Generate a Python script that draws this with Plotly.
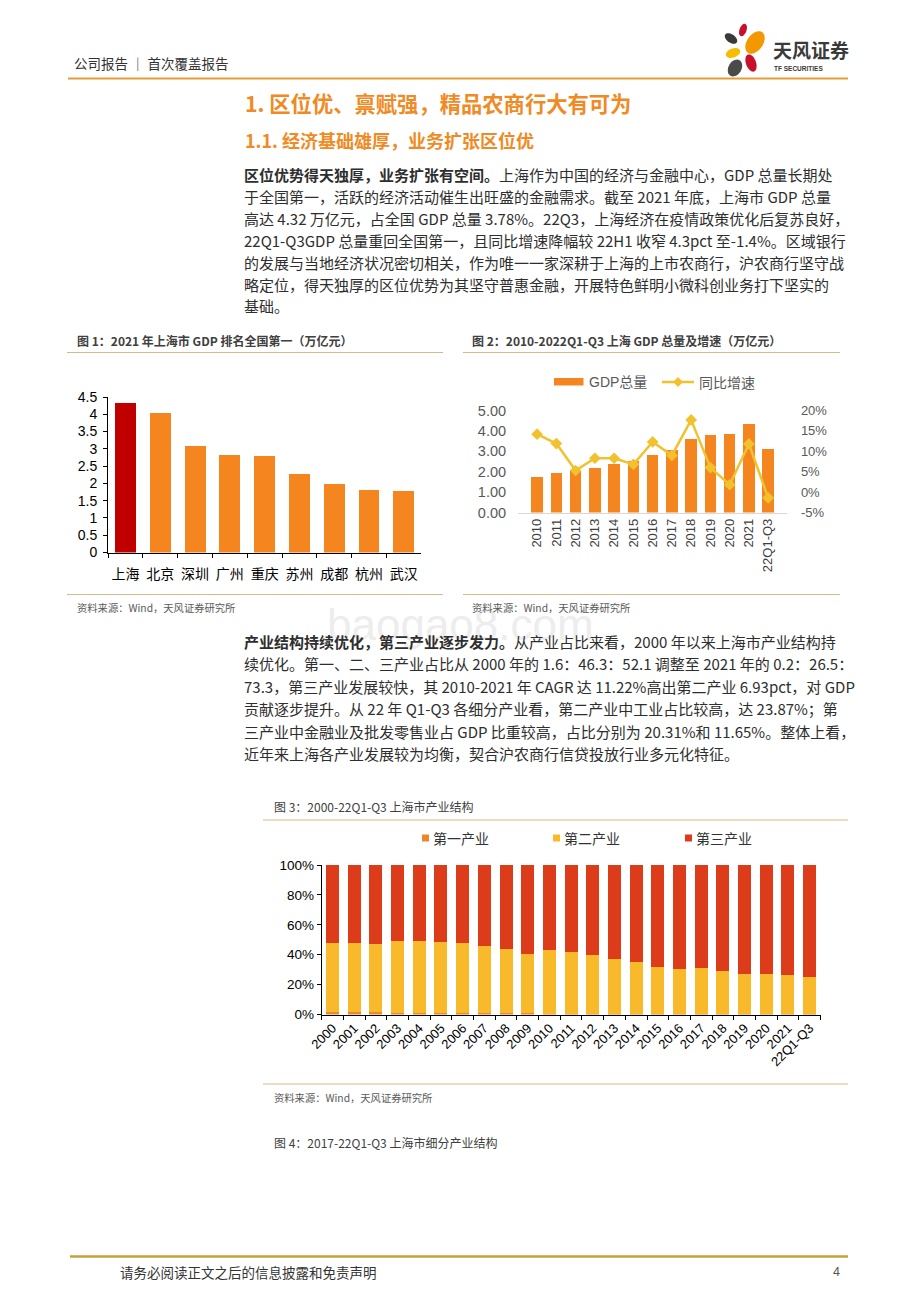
import math
import plotly.graph_objects as go

# the page body adds an 8px margin; the figure is sized so the page is 920x1302
OFF = 8
W, H = 920 - OFF, 1302 - OFF


def px(x):
    return (x - OFF) / W


def py(y):
    return 1 - (y - OFF) / H


CJK = "Noto Sans CJK SC"
NUM = "Liberation Sans, Noto Sans CJK SC"

# ---------------- data ----------------
cities = ["上海", "北京", "深圳", "广州", "重庆", "苏州", "成都", "杭州", "武汉"]
gdp_2021 = [4.32, 4.03, 3.07, 2.82, 2.79, 2.27, 1.99, 1.81, 1.77]

years_gdp = ["2010", "2011", "2012", "2013", "2014", "2015", "2016", "2017",
             "2018", "2019", "2020", "2021", "22Q1-Q3"]
gdp_total = [1.72, 1.92, 2.02, 2.18, 2.36, 2.51, 2.82, 3.06, 3.60, 3.82, 3.87, 4.32, 3.11]
gdp_growth = [14.2, 11.9, 5.3, 8.3, 8.3, 6.8, 12.3, 9.0, 17.7, 6.0, 1.8, 11.8, -1.4]
growth_tick_vals = [-5, 0, 5, 10, 15, 20]
growth_tick_text = ["-5%", "0%", "5%", "10%", "15%", "20%"]

years_struct = ["2000", "2001", "2002", "2003", "2004", "2005", "2006", "2007",
                "2008", "2009", "2010", "2011", "2012", "2013", "2014", "2015",
                "2016", "2017", "2018", "2019", "2020", "2021", "22Q1-Q3"]
primary_share = [1.6, 1.5, 1.4, 1.2, 1.0, 0.9, 0.9, 0.8, 0.7, 0.7, 0.6, 0.6,
                 0.6, 0.6, 0.5, 0.4, 0.4, 0.3, 0.3, 0.3, 0.3, 0.2, 0.2]
secondary_share = [46.3, 46.0, 45.5, 47.9, 48.3, 47.5, 46.9, 44.7, 43.3, 39.7, 42.3, 41.4,
                   38.9, 36.2, 34.5, 31.7, 30.0, 30.5, 28.7, 26.7, 26.5, 26.5, 25.0]
tertiary_share = [52.1, 52.5, 53.1, 50.9, 50.7, 51.6, 52.2, 54.5, 56.0, 59.6, 57.1, 58.0,
                  60.5, 63.2, 65.0, 67.9, 69.6, 69.2, 71.0, 73.0, 73.2, 73.3, 74.8]

# ---------------- styles ----------------
ORANGE = "#F5861F"
DARKRED = "#C00000"
GOLD = "#F2C12E"
C_PRI = "#E8892B"
C_SEC = "#F8BA2B"
C_TER = "#DD3C1B"
city_colors = [DARKRED] + [ORANGE] * 8
TITLE_ORANGE = "#F08A24"
CAP_LINE = "#D8BA88"
TEXT = "#333333"
BODY = "#2E2E2E"

fig = go.Figure()

# chart 1
fig.add_trace(go.Bar(x=cities, y=gdp_2021, marker=dict(color=city_colors, line=dict(width=0)),
                     xaxis="x", yaxis="y", showlegend=False, name="GDP"))
# chart 2
fig.add_trace(go.Bar(x=years_gdp, y=gdp_total, marker=dict(color=ORANGE, line=dict(width=0)),
                     xaxis="x2", yaxis="y2", showlegend=False, name="GDP总量"))
fig.add_trace(go.Scatter(x=years_gdp, y=gdp_growth, mode="lines+markers",
                         line=dict(color=GOLD, width=2.5),
                         marker=dict(symbol="diamond", size=9, color=GOLD),
                         xaxis="x2", yaxis="y3", showlegend=False, name="同比增速"))
# chart 3
for vals, col, nm in [(primary_share, C_PRI, "第一产业"),
                      (secondary_share, C_SEC, "第二产业"),
                      (tertiary_share, C_TER, "第三产业")]:
    fig.add_trace(go.Bar(x=years_struct, y=vals, marker=dict(color=col, line=dict(width=0)),
                         xaxis="x4", yaxis="y4", showlegend=False, name=nm))

axis_common = dict(showgrid=False, zeroline=False, fixedrange=True, automargin=False)

fig.update_layout(
    width=W, height=H, autosize=False,
    margin=dict(l=0, r=0, t=0, b=0, pad=0, autoexpand=False),
    paper_bgcolor="white", plot_bgcolor="white",
    barmode="stack", bargap=0.4,
    font=dict(family=NUM, color=TEXT),
    xaxis=dict(domain=[px(108.1), px(421.2)], anchor="y", type="category",
               showline=True, linecolor="black", linewidth=1,
               ticks="outside", tickson="boundaries", ticklen=4, tickcolor="black",
               tickangle=0, ticklabelstandoff=9,
               tickfont=dict(size=14, color="black", family=NUM), **axis_common),
    yaxis=dict(domain=[py(552.5), py(397)], anchor="x", range=[0, 4.5], dtick=0.5,
               showline=True, linecolor="black", linewidth=1,
               ticks="outside", ticklen=4, tickcolor="black", ticklabelstandoff=3,
               tickfont=dict(size=14, color="black", family=NUM), **axis_common),
    xaxis2=dict(domain=[px(518), px(787.3)], anchor="y2", type="category",
                showline=True, linecolor="#D9D9D9", linewidth=1, ticks="",
                tickangle=-90, tickfont=dict(size=13, color="#404040", family=NUM),
                **axis_common),
    yaxis2=dict(domain=[py(512.5), py(410.5)], anchor="x2", range=[0, 5], dtick=1,
                tickformat=".2f", showline=False,
                ticks="outside", ticklen=8, tickcolor="rgba(0,0,0,0)",
                tickfont=dict(size=14.5, color="#595959", family=NUM), **axis_common),
    yaxis3=dict(overlaying="y2", side="right", anchor="x2", range=[-5, 20],
                tickmode="array", tickvals=growth_tick_vals, ticktext=growth_tick_text,
                showline=False, ticks="outside", ticklen=10, tickcolor="rgba(0,0,0,0)",
                tickfont=dict(size=13, color="#595959", family=NUM), **axis_common),
    xaxis4=dict(domain=[px(321.7), px(820.5)], anchor="y4", type="category",
                showline=True, linecolor="black", linewidth=1,
                ticks="outside", tickson="boundaries", ticklen=4, tickcolor="black",
                tickangle=-45, tickfont=dict(size=13, color="black", family=NUM),
                **axis_common),
    yaxis4=dict(domain=[py(1014.5), py(865)], anchor="x4", range=[0, 100], dtick=20,
                ticksuffix="%", showline=True, linecolor="black", linewidth=1,
                ticks="outside", ticklen=4, tickcolor="black",
                tickfont=dict(size=13.5, color="black", family=NUM), **axis_common),
)

ann = []
shapes = []


def text(x, y, s, size, color=TEXT, family=CJK, anchor="left"):
    ann.append(dict(x=px(x), y=py(y), xref="paper", yref="paper", text=s,
                    showarrow=False, xanchor=anchor, yanchor="middle",
                    font=dict(size=size, color=color, family=family)))


def hline(x0, x1, y, color, width=1):
    shapes.append(dict(type="line", xref="paper", yref="paper",
                       x0=px(x0), x1=px(x1), y0=py(y), y1=py(y),
                       line=dict(color=color, width=width)))


def rect(x0, y0, x1, y1, color):
    shapes.append(dict(type="rect", xref="paper", yref="paper",
                       x0=px(x0), x1=px(x1), y0=py(y0), y1=py(y1),
                       fillcolor=color, line=dict(width=0)))


def ellipse(cx, cy, a, b, ang, color):
    pts = []
    t = math.radians(ang)
    for i in range(36):
        th = 2 * math.pi * i / 36
        ex, ey = a * math.cos(th), b * math.sin(th)
        xx = cx + ex * math.cos(t) - ey * math.sin(t)
        yy = cy + ex * math.sin(t) + ey * math.cos(t)
        pts.append(f"{px(xx):.5f},{py(yy):.5f}")
    path = "M " + " L ".join(pts) + " Z"
    shapes.append(dict(type="path", xref="paper", yref="paper", path=path,
                       fillcolor=color, line=dict(width=0)))


# watermark (faint, as in the reference)
text(460, 624, "baogao8.com", 44, color="#EDEDED", family="Liberation Sans", anchor="center")

# header
text(72, 63, "公司报告 ｜ 首次覆盖报告", 13.5, color="#333333")
hline(68, 848, 78.5, "#E89B3A", 2)
# logo
ellipse(743, 30, 6.5, 3.5, -70, "#C8102E")
ellipse(731, 38.5, 7, 4.2, 35, "#3A3A3A")
ellipse(755, 42.5, 12.5, 8, -55, "#F39800")
ellipse(733, 53, 7.5, 4.5, -20, "#F5BE00")
ellipse(751, 63, 9, 5, 70, "#C8102E")
ellipse(735, 68, 9, 6.5, -60, "#4A4A4A")
text(771, 50, "<b>天风证券</b>", 19, color="#3A3A3A")
text(772, 68, "<b>TF SECURITIES</b>", 6.5, color="#3A3A3A", family="Liberation Sans")

# section titles
text(243, 103, "<b>1. 区位优、禀赋强，精品农商行大有可为</b>", 21.3, color=TITLE_ORANGE)
text(243, 140, "<b>1.1. 经济基础雄厚，业务扩张区位优</b>", 18, color=TITLE_ORANGE)

p1 = [
    "<b>区位优势得天独厚，业务扩张有空间。</b>上海作为中国的经济与金融中心，GDP 总量长期处",
    "于全国第一，活跃的经济活动催生出旺盛的金融需求。截至 2021 年底，上海市 GDP 总量",
    "高达 4.32 万亿元，占全国 GDP 总量 3.78%。22Q3，上海经济在疫情政策优化后复苏良好，",
    "22Q1-Q3GDP 总量重回全国第一，且同比增速降幅较 22H1 收窄 4.3pct 至-1.4%。区域银行",
    "的发展与当地经济状况密切相关，作为唯一一家深耕于上海的上市农商行，沪农商行坚守战",
    "略定位，得天独厚的区位优势为其坚守普惠金融，开展特色鲜明小微科创业务打下坚实的",
    "基础。",
]
for i, s in enumerate(p1):
    text(242, 175 + 21.8 * i, s, 15, color=BODY)

# chart captions
text(75, 341, "<b>图 1：2021 年上海市 GDP 排名全国第一（万亿元）</b>", 12, color="#404040")
hline(67, 443, 352.5, CAP_LINE, 1.2)
hline(67, 443, 594.5, CAP_LINE, 1.2)
text(75, 607, "资料来源：Wind，天风证券研究所", 10.3, color="#595959")

text(470, 341, "<b>图 2：2010-2022Q1-Q3 上海 GDP 总量及增速（万亿元）</b>", 12, color="#404040")
hline(463, 840, 352.5, CAP_LINE, 1.2)
hline(463, 840, 594.5, CAP_LINE, 1.2)
text(470, 607, "资料来源：Wind，天风证券研究所", 10.3, color="#595959")

# chart 2 legend
rect(554, 378, 583.5, 385.5, ORANGE)
text(587, 382, "GDP总量", 14, color="#595959", family=NUM)
hline(662, 694, 382, GOLD, 2.5)
shapes.append(dict(type="path", xref="paper", yref="paper",
                   path=f"M {px(678):.5f},{py(377):.5f} L {px(683):.5f},{py(382):.5f} "
                        f"L {px(678):.5f},{py(387):.5f} L {px(673):.5f},{py(382):.5f} Z",
                   fillcolor=GOLD, line=dict(width=0)))
text(697, 382, "同比增速", 14, color="#595959")

p2 = [
    "<b>产业结构持续优化，第三产业逐步发力。</b>从产业占比来看，2000 年以来上海市产业结构持",
    "续优化。第一、二、三产业占比从 2000 年的 1.6：46.3：52.1 调整至 2021 年的 0.2：26.5：",
    "73.3，第三产业发展较快，其 2010-2021 年 CAGR 达 11.22%高出第二产业 6.93pct，对 GDP",
    "贡献逐步提升。从 22 年 Q1-Q3 各细分产业看，第二产业中工业占比较高，达 23.87%；第",
    "三产业中金融业及批发零售业占 GDP 比重较高，占比分别为 20.31%和 11.65%。整体上看，",
    "近年来上海各产业发展较为均衡，契合沪农商行信贷投放行业多元化特征。",
]
for i, s in enumerate(p2):
    text(242, 641 + 22.5 * i, s, 15, color=BODY)

# chart 3
text(272, 806, "图 3：2000-22Q1-Q3 上海市产业结构", 12, color="#404040")
hline(263, 848, 820, CAP_LINE, 1.2)
for sx, col, nm in [(422, C_PRI, "第一产业"), (553, C_SEC, "第二产业"), (685, C_TER, "第三产业")]:
    rect(sx, 834.5, sx + 7, 841.5, col)
    text(sx + 9, 838, nm, 14, color="#333333")
hline(263, 848, 1084, CAP_LINE, 1.2)
text(272, 1097, "资料来源：Wind，天风证券研究所", 10.3, color="#595959")

text(272, 1142, "图 4：2017-22Q1-Q3 上海市细分产业结构", 12, color="#404040")

# footer
hline(70, 848, 1256.5, "#C9A13B", 2.5)
text(118, 1272, "请务必阅读正文之后的信息披露和免责声明", 13.5, color="#333333")
text(842, 1272, "4", 12.5, color="#555555", family=NUM, anchor="right")

fig.update_layout(annotations=ann, shapes=shapes)
fig.write_html("out.html")
